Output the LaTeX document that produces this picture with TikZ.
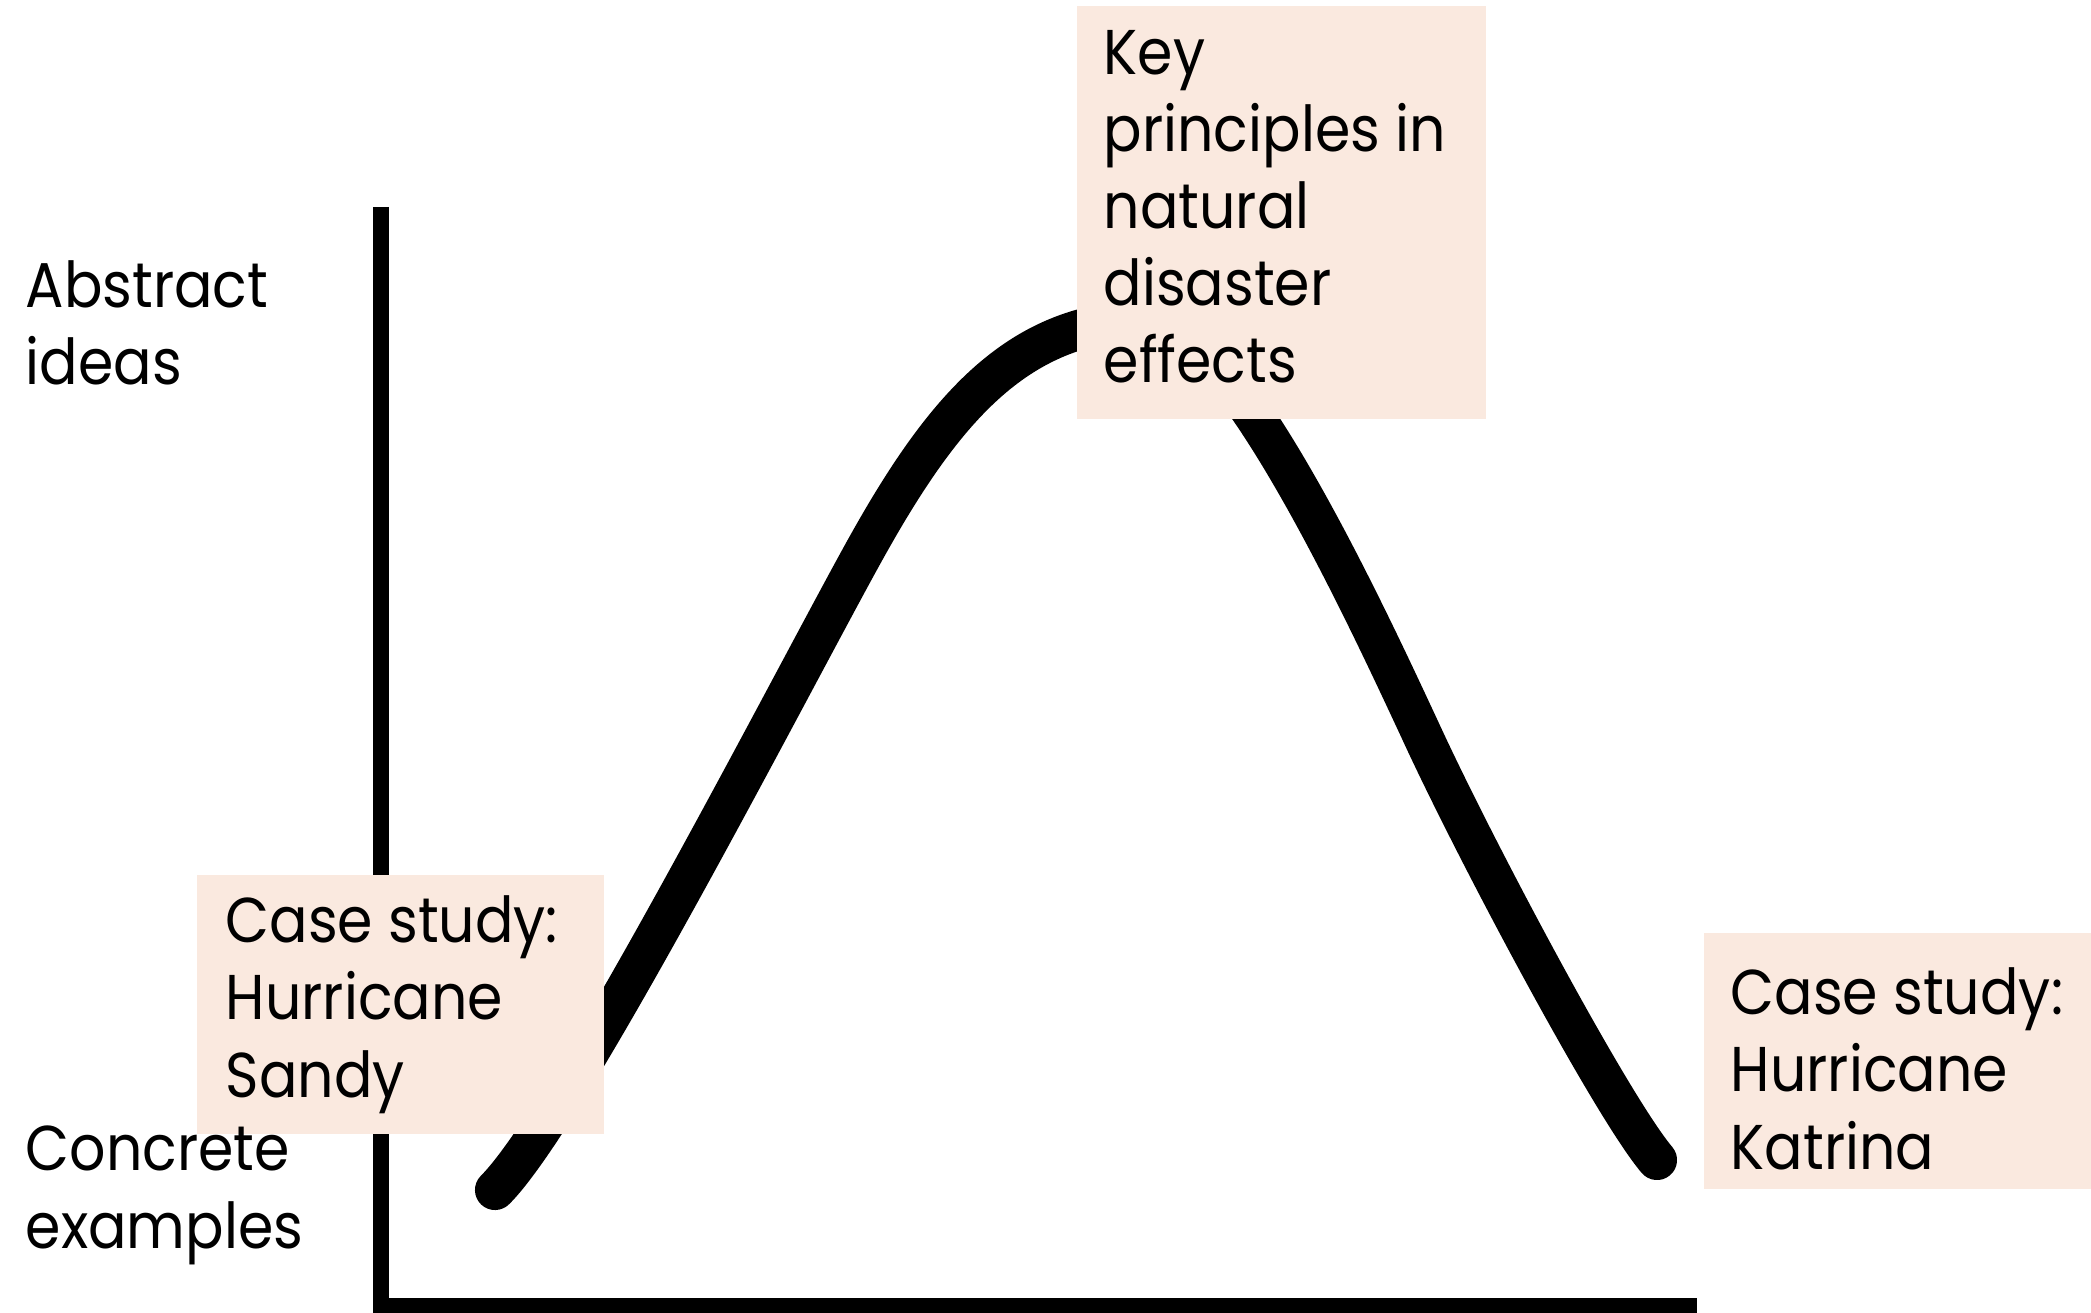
\documentclass[tikz,border=0pt]{standalone}
\usepackage{fontspec}
\setmainfont{Poppins}[FakeStretch=0.9]
\usepackage{tikz}
\usetikzlibrary{positioning}
\definecolor{peach}{RGB}{250,233,223}
\tikzset{
  notebox/.style={fill=peach,draw=none,inner sep=0pt,anchor=north west},
  notetext/.style={anchor=base west,align=left,inner sep=0pt,
    font=\fontsize{18}{21.9}\selectfont},
  axisline/.style={line width=4.6pt,line join=miter},
  hump/.style={line width=11.4pt,line cap=round,line join=round}
}

\begin{document}
\begin{tikzpicture}[x=0.01cm,y=-0.01cm]
        \useasboundingbox (0,0) rectangle (2091,1313);
        \coordinate (top) at (381,207);
        \coordinate (origin) at (381,1306);
        \coordinate (right) at (1697,1306);
        \draw[axisline] (top)--(origin)--(right);
        \coordinate (start) at (495,1190);
        \coordinate (peak) at (1150,320);
        \coordinate (finish) at (1657,1160);
        \draw[hump] (start)
            .. controls (570,1115) and (795,676) .. (865,550)
            .. controls (945,406) and (1020,320) .. (peak)
            .. controls (1230,320) and (1365,612) .. (1420,730)
            .. controls (1475,850) and (1612,1107) .. (finish);
        \node[notebox,minimum width=4.09cm,minimum height=4.13cm] (keybox) at (1076,5) {};
        \node[notebox,minimum width=4.07cm,minimum height=2.59cm] (sandybox) at (196,874) {};
        \node[notebox,minimum width=4.00cm,minimum height=2.56cm] (katrinabox) at (1703,932) {};
        % base anchor sits on the last line
        \node[notetext] (key) at ([shift={(27,378)}]keybox.north west)
            {Key\\principles in\\natural\\disaster\\effects};
        \node[notetext] (sandy) at ([shift={(29,223)}]sandybox.north west)
            {Case study:\\Hurricane\\Sandy};
        \node[notetext] (katrina) at ([shift={(27,237)}]katrinabox.north west)
            {Case study:\\Hurricane\\Katrina};
        \node[notetext] (abstract) at (25,385) {Abstract\\ideas};
        \node[notetext] (concrete) at (25,1248) {Concrete\\examples};
    \end{tikzpicture}
\end{document}
